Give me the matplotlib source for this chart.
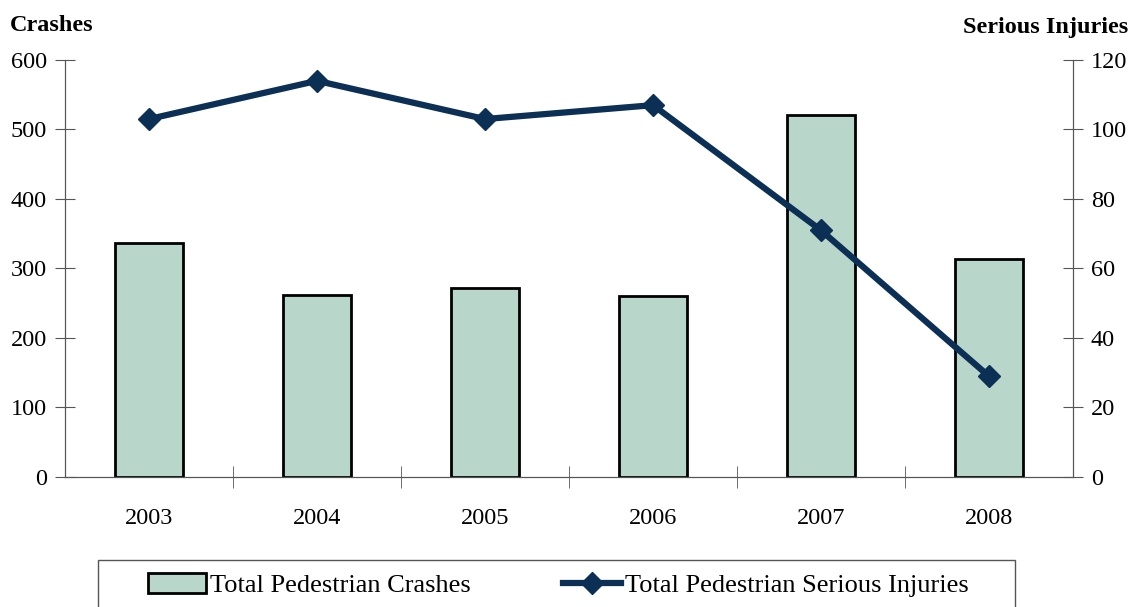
import numpy as np
import matplotlib
matplotlib.use('Agg')
import matplotlib.pyplot as plt
from matplotlib.lines import Line2D
from matplotlib.patches import Patch, Rectangle

years = ['2003', '2004', '2005', '2006', '2007', '2008']
crashes = [336, 262, 272, 260, 521, 313]
injuries = [103, 114, 103, 107, 71, 29]

plt.rcParams['font.family'] = ['Liberation Serif', 'DejaVu Serif']

bar_color = '#B9D6CA'
line_color = '#0B2F55'
fs = 17.5

fig = plt.figure(figsize=(11.35, 6.07), dpi=100)
ax = fig.add_axes([0.0573, 0.2142, 0.888, 0.687])
x = np.arange(len(years))

ax.bar(x, crashes, width=0.4, color=bar_color, edgecolor='black', linewidth=2, zorder=2)
ax.set_xlim(-0.5, len(years) - 0.5)
ax.set_ylim(0, 600)
ax.set_yticks(range(0, 601, 100))
ax.set_xticks(x)
ax.set_xticklabels(years)
ax.set_xticks(np.arange(0.5, len(years) - 1, 1), minor=True)
ax.tick_params(axis='x', which='major', length=0, pad=22, labelsize=fs)
ax.tick_params(axis='x', which='minor', length=16, direction='inout', color='#555555')
ax.tick_params(axis='y', length=14, direction='inout', labelsize=fs, color='#555555', pad=6)
ax.spines['top'].set_visible(False)
for s in ['left', 'right', 'bottom']:
    ax.spines[s].set_color('#555555')

ax2 = ax.twinx()
ax2.plot(x, injuries, color=line_color, linewidth=4.5, marker='D', markersize=11, zorder=3)
ax2.set_ylim(0, 120)
ax2.set_yticks(range(0, 121, 20))
ax2.tick_params(axis='y', length=14, direction='inout', labelsize=fs, color='#555555', pad=6)
ax2.spines['top'].set_visible(False)
for s in ['left', 'right', 'bottom']:
    ax2.spines[s].set_color('#555555')

fig.text(0.009, 0.958, 'Crashes', fontsize=fs, fontweight='bold', va='center', ha='left')
fig.text(0.994, 0.955, 'Serious Injuries', fontsize=fs, fontweight='bold', va='center', ha='right')

# legend box (runs off the bottom edge like the original)
fig.patches.append(Rectangle((98 / 1135, -0.05), (1015 - 98) / 1135, 0.05 + 1 - 560 / 607,
                             transform=fig.transFigure, facecolor='white',
                             edgecolor='#555555', linewidth=1))

handles = [Patch(facecolor=bar_color, edgecolor='black', linewidth=2),
           Line2D([], [], color=line_color, linewidth=4.5, marker='D', markersize=11)]
labels = ['Total Pedestrian Crashes', 'Total Pedestrian Serious Injuries']
leg = fig.legend(handles, labels, loc='center left', bbox_to_anchor=(148 / 1135, 1 - 585 / 607),
                 ncol=2, fontsize=19, frameon=False, handlelength=2.2, handleheight=0.8,
                 handletextpad=0.15, borderpad=0, borderaxespad=0, columnspacing=3.5)

fig.savefig('out.png', dpi=100)
